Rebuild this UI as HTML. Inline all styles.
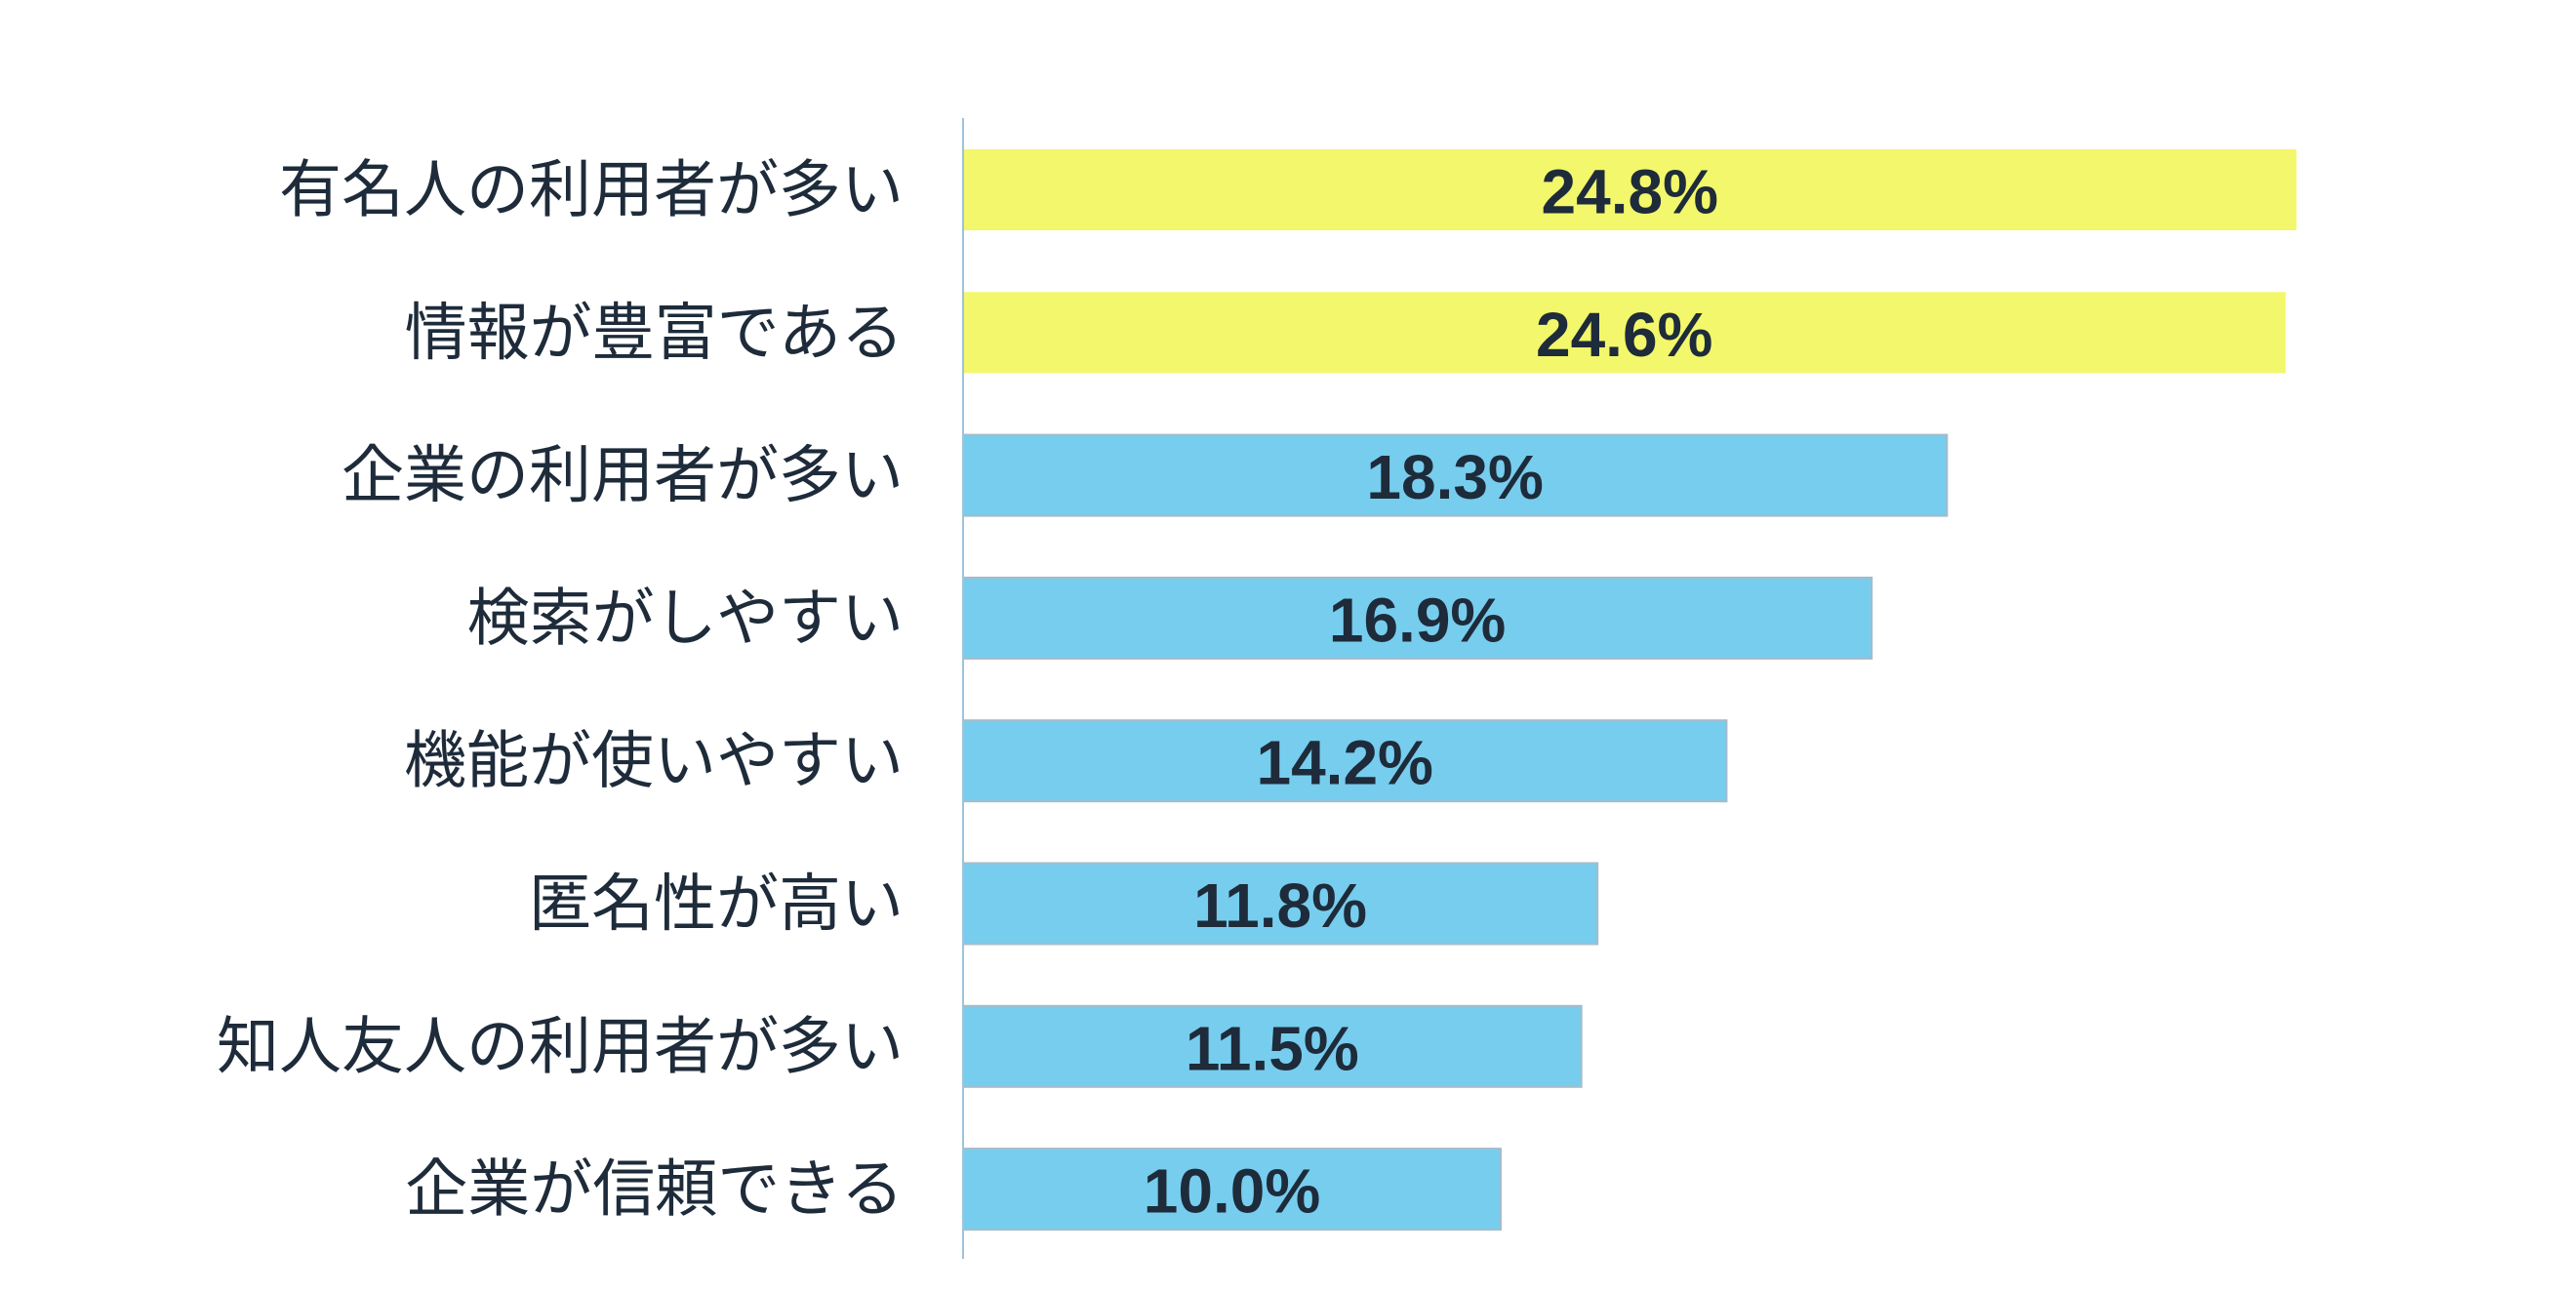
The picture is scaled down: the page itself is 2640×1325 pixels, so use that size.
<!DOCTYPE html>
<html><head><meta charset="utf-8"><style>
body{margin:0;background:#fff;width:2640px;height:1320px;overflow:hidden}
svg text{font-family:"Liberation Sans","Noto Sans CJK JP",sans-serif}
</style></head><body>
<svg id="chart" width="2640" height="1320" xmlns="http://www.w3.org/2000/svg"></svg>
<script>
const categories=["有名人の利用者が多い","情報が豊富である","企業の利用者が多い","検索がしやすい","機能が使いやすい","匿名性が高い","知人友人の利用者が多い","企業が信頼できる"];
const values=[24.8,24.6,18.3,16.9,14.2,11.8,11.5,10.0];
const highlight=[true,true,false,false,false,false,false,false];
const valueLabels=["24.8%","24.6%","18.3%","16.9%","14.2%","11.8%","11.5%","10.0%"];
const NS="http://www.w3.org/2000/svg";
const svg=document.getElementById('chart');
const x0=987, pxPer=55.1, yTop=153, pitch=146.3, bh=83;
const xs=v=>x0+v*pxPer;
const ys=i=>yTop+i*pitch;
function mk(t,a){const e=document.createElementNS(NS,t);for(const k in a)e.setAttribute(k,a[k]);svg.appendChild(e);return e;}
categories.forEach((c,i)=>{
  const r=mk('rect',{x:x0,y:ys(i),width:xs(values[i])-x0,height:bh,fill:highlight[i]?'#f3f76b':'#77cdee',stroke:highlight[i]?'none':'#a3bccb','stroke-width':2});
  
  
  const l=mk('text',{x:926,y:ys(i)+bh/2+22,'text-anchor':'end','font-size':64,fill:'#1e2b3a'});
  l.textContent=c;
  
  
  const v=mk('text',{x:(x0+xs(values[i]))/2,y:ys(i)+bh/2+24,'text-anchor':'middle','font-size':64,'font-weight':'bold',fill:'#1e2b3a'});
  v.textContent=valueLabels[i];
  
  
});
const ax=mk('line',{x1:x0,y1:121,x2:x0,y2:1290,stroke:'#9fc3dc','stroke-width':2});


</script>
</body></html>
